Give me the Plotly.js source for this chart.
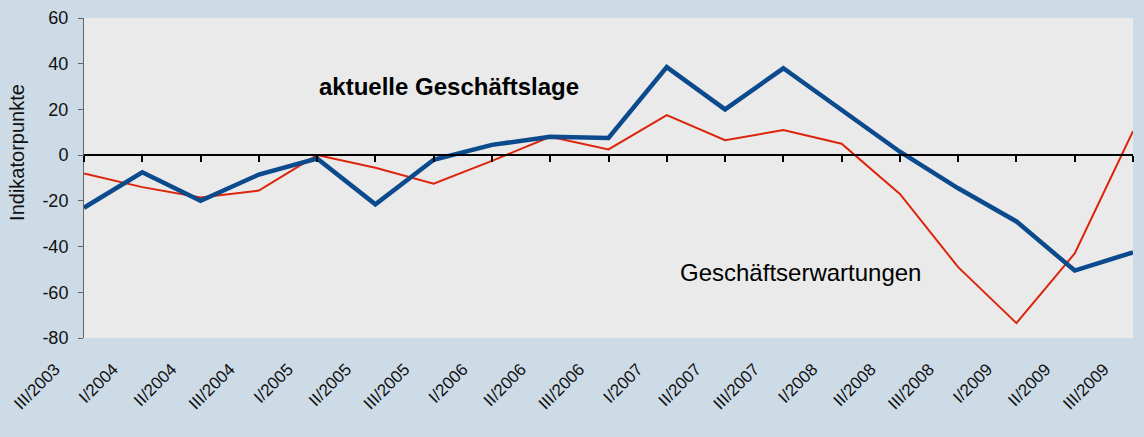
<!DOCTYPE html>
<html>
<head>
<meta charset="utf-8">
<script src="https://cdn.plot.ly/plotly-3.0.1.min.js"></script>
<style>
  html, body { margin: 0; padding: 0; background: #cddbe7; }
  #graph { width: 1144px; height: 437px; }
</style>
</head>
<body>
<div id="graph"></div>
<script>
// Quartale
var quartale = ['III/2003', 'I/2004', 'II/2004', 'III/2004', 'I/2005', 'II/2005', 'III/2005',
    'I/2006', 'II/2006', 'III/2006', 'I/2007', 'II/2007', 'III/2007', 'I/2008', 'II/2008',
    'III/2008', 'I/2009', 'II/2009', 'III/2009'];

// aktuelle Geschaeftslage
var lage = [-23, -7.5, -20, -8.5, -1.5, -21.5, -2, 4.5, 8, 7.5, 38.5, 20, 38, 20, 1.5,
    -14.5, -29, -50.5, -42.5];

// Geschaeftserwartungen
var erwartungen = [-8, -14, -18.5, -15.5, 0, -5.5, -12.5, -2.5, 8, 2.5, 17.5, 6.5, 11,
    5, -17, -49, -73.5, -43, 10.5];

var yTicks = [-80, -60, -40, -20, 0, 20, 40, 60];

var font = 'Liberation Sans, Arial, sans-serif';

var traceLage = {
    x: quartale,
    y: lage,
    mode: 'lines',
    name: 'aktuelle Geschäftslage',
    line: { color: '#0b4a8c', width: 4.5 }
};
var traceErw = {
    x: quartale,
    y: erwartungen,
    mode: 'lines',
    name: 'Geschäftserwartungen',
    line: { color: '#dd240a', width: 2 }
};
// unsichtbare Spur fuer die Nulllinie mit Strichen
var traceNull = {
    x: quartale,
    y: quartale.map(function () { return 0; }),
    xaxis: 'x2',
    mode: 'lines',
    hoverinfo: 'skip',
    showlegend: false,
    line: { color: 'rgba(0,0,0,0)', width: 0 }
};

var layout = {
    width: 1144,
    height: 437,
    paper_bgcolor: '#cddbe7',
    plot_bgcolor: '#eaeaea',
    showlegend: false,
    margin: { l: 84, r: 11, t: 18, b: 99 },
    font: { family: font, size: 17, color: '#111' },
    xaxis: {
        type: 'category',
        range: [0, quartale.length - 1],
        tickangle: -45,
        ticks: '',
        showline: false,
        showgrid: false,
        zeroline: false,
        ticklabelstandoff: 17,
        ticklabelshift: -29,
        tickfont: { family: font, size: 17, color: '#111' }
    },
    xaxis2: {
        type: 'category',
        overlaying: 'x',
        matches: 'x',
        anchor: 'free',
        position: 80 / 140,
        side: 'bottom',
        showline: true,
        linecolor: '#000',
        linewidth: 2,
        ticks: 'outside',
        ticklen: 6,
        tickwidth: 2,
        tickcolor: '#000',
        showticklabels: false,
        showgrid: false,
        zeroline: false
    },
    yaxis: {
        range: [-80, 60],
        tickvals: yTicks,
        ticktext: yTicks.map(String),
        showgrid: false,
        zeroline: false,
        showline: true,
        linecolor: '#666',
        linewidth: 1,
        ticks: 'outside',
        ticklen: 5,
        tickcolor: '#666',
        ticklabelstandoff: 6,
        tickfont: { family: font, size: 18, color: '#111' }
    },
    annotations: [
        {
            xref: 'paper', yref: 'paper', x: -0.0634, y: 0.58,
            xanchor: 'center', yanchor: 'middle',
            text: 'Indikatorpunkte', textangle: -90,
            showarrow: false,
            font: { family: font, size: 20, color: '#111' }
        },
        {
            xref: 'paper', yref: 'paper', x: 0.3484, y: 0.7875,
            xanchor: 'center', yanchor: 'middle',
            text: '<b>aktuelle Geschäftslage</b>',
            showarrow: false,
            font: { family: font, size: 24, color: '#000' }
        },
        {
            xref: 'paper', yref: 'paper', x: 0.6826, y: 0.206,
            xanchor: 'center', yanchor: 'middle',
            text: 'Geschäftserwartungen',
            showarrow: false,
            font: { family: font, size: 24, color: '#000' }
        }
    ]
};

var config = { staticPlot: true };

Plotly.newPlot('graph', [traceNull, traceErw, traceLage], layout, config);
</script>
</body>
</html>
